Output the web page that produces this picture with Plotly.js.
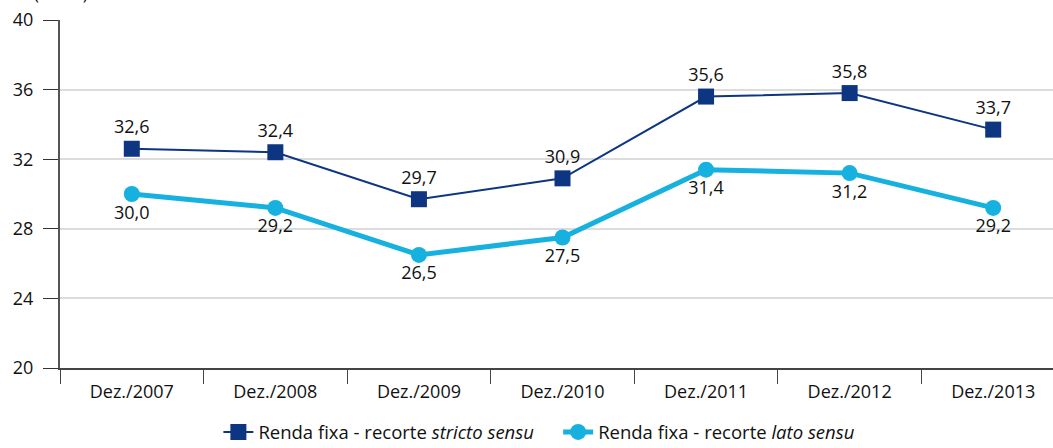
<!DOCTYPE html>
<html><head><meta charset="utf-8">
<script src="https://cdn.plot.ly/plotly-3.0.1.min.js"></script>
<style>html,body{margin:0;padding:0;overflow:hidden;background:#fff;}</style>
</head><body>
<div id="chart"></div>
<script>
const categories = ["Dez./2007","Dez./2008","Dez./2009","Dez./2010","Dez./2011","Dez./2012","Dez./2013"];
const strictoValues = [32.6, 32.4, 29.7, 30.9, 35.6, 35.8, 33.7];
const latoValues = [30.0, 29.2, 26.5, 27.5, 31.4, 31.2, 29.2];
const yTicks = [20, 24, 28, 32, 36, 40];
const fmt = v => v.toFixed(1).replace('.', ',');
const FONT = "Open Sans, Noto Sans, sans-serif";

const traces = [
  {
    x: categories, y: strictoValues, name: "Renda fixa - recorte <i>stricto sensu</i>&nbsp;&nbsp;&nbsp;&nbsp;",
    type: "scatter", mode: "lines+markers+text",
    line: {color: "#0d3581", width: 2},
    marker: {symbol: "square", size: 16, color: "#0d3581"},
    text: strictoValues.map(fmt), textposition: "top center",
    textfont: {family: FONT, size: 18, color: "#111"}, cliponaxis: false
  },
  {
    x: categories, y: latoValues, name: "Renda fixa - recorte <i>lato sensu</i>",
    type: "scatter", mode: "lines+markers+text",
    line: {color: "#17b1e0", width: 5},
    marker: {symbol: "circle", size: 16, color: "#17b1e0"},
    text: latoValues.map(fmt), textposition: "bottom center",
    textfont: {family: FONT, size: 18, color: "#111"}, cliponaxis: false
  }
];

const layout = {
  width: 1065, height: 448,
  margin: {l: 60, r: 0, t: 20, b: 80, autoexpand: false},
  paper_bgcolor: "#fff", plot_bgcolor: "#fff",
  font: {family: FONT, size: 18, color: "#111"},
  showlegend: true,
  legend: {orientation: "h", x: 0.477, xanchor: "center", y: -0.185, yanchor: "middle",
           font: {family: FONT, size: 18.5, color: "#111"}, tracegroupgap: 0},
  xaxis: {
    type: "category", tickson: "boundaries", ticks: "outside", ticklen: 14, tickcolor: "#444",
    showline: true, linecolor: "#444", linewidth: 2, showgrid: false, ticklabelstandoff: 6,
    tickfont: {family: FONT, size: 18, color: "#111"}, range: [-0.5, 6.5], automargin: false
  },
  yaxis: {
    range: [20, 40], tickvals: yTicks, ticktext: yTicks.map(String),
    ticks: "outside", ticklen: 15, tickcolor: "#333", ticklabelstandoff: 6,
    showline: true, linecolor: "#555", linewidth: 2,
    showgrid: true, gridcolor: "#dcdcdc", gridwidth: 2, zeroline: false,
    tickfont: {family: FONT, size: 18, color: "#111"}, automargin: false
  },
  annotations: [
    {text: "(em %)", xref: "paper", yref: "paper", x: -0.028, y: 1.0, xanchor: "left", yanchor: "bottom",
     yshift: 13, showarrow: false, font: {family: FONT, size: 17, color: "#111"}}
  ]
};

Plotly.newPlot("chart", traces, layout, {displayModeBar: false, staticPlot: true});
</script>
</body></html>
